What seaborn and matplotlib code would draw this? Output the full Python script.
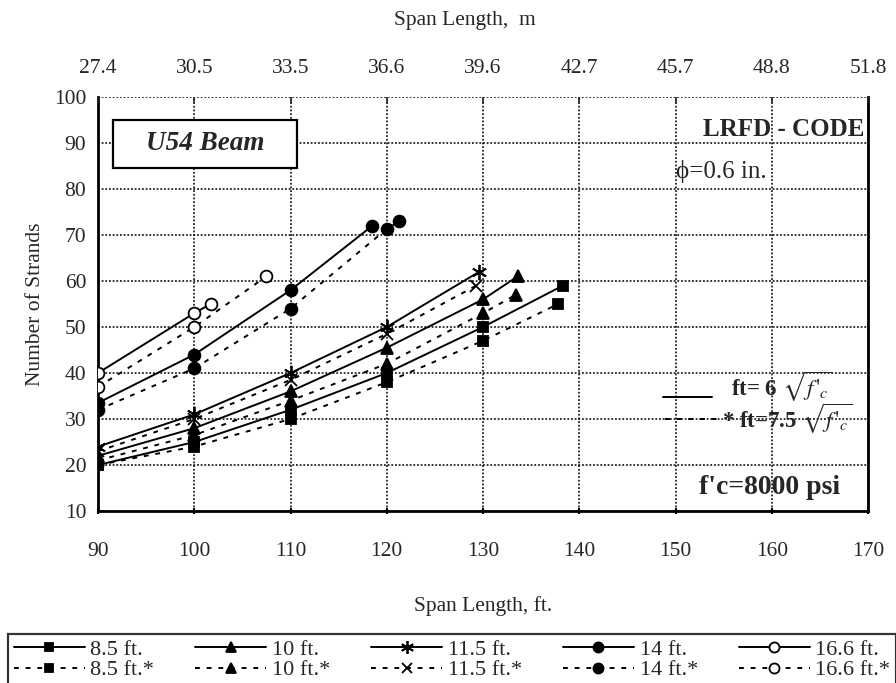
import matplotlib
matplotlib.use("Agg")
import matplotlib.pyplot as plt
import seaborn as sns
from matplotlib.patches import Rectangle
from matplotlib.lines import Line2D

# ---------------- data ----------------
x_85 = [90, 100, 110, 120, 130, 138.3]
y_85 = [20, 25, 32, 40, 50, 59]
x_85s = [90, 100, 110, 120, 130, 137.8]
y_85s = [20, 24, 30, 38, 47, 55]
x_10 = [90, 100, 110, 120, 130, 133.6]
y_10 = [22, 28, 36, 45.5, 56, 61]
x_10s = [90, 100, 110, 120, 130, 133.4]
y_10s = [21, 26.5, 34, 42, 53, 57]
x_115 = [90, 100, 110, 120, 129.6]
y_115 = [24, 31, 40, 50, 62]
x_115s = [90, 100, 110, 120, 129.3]
y_115s = [23, 30, 38.5, 48.5, 59]
x_14 = [90, 100, 110, 118.5]
y_14 = [33.5, 44, 58, 72]
x_14s = [90, 100, 110, 120, 121.3]
y_14s = [32, 41, 54, 71.3, 73]
x_166 = [90, 100, 101.7]
y_166 = [40, 53, 55]
x_166s = [90, 100, 107.5]
y_166s = [37, 50, 61]

x_ticks_ft = [90, 100, 110, 120, 130, 140, 150, 160, 170]
x_ticks_m = ["27.4", "30.5", "33.5", "36.6", "39.6", "42.7", "45.7", "48.8", "51.8"]
y_ticks = [10, 20, 30, 40, 50, 60, 70, 80, 90, 100]

labels = ["8.5 ft.", "8.5 ft.*", "10 ft.", "10 ft.*", "11.5 ft.", "11.5 ft.*",
          "14 ft.", "14 ft.*", "16.6 ft.", "16.6 ft.*"]

# ---------------- style ----------------
sns.set_style("white")
plt.rcParams["font.family"] = ["Liberation Serif", "DejaVu Serif"]
plt.rcParams["mathtext.fontset"] = "stix"

fig = plt.figure(figsize=(8.96, 6.83), dpi=100)
W, H = 896, 683
ax = fig.add_axes([98 / W, 172 / H, 770 / W, 414 / H])

solid = "-"
dash = (0, (2.5, 3.5))
series = [
    (x_85, y_85, "s", "black", solid, 7),
    (x_85s, y_85s, "s", "black", dash, 7),
    (x_10, y_10, "^", "black", solid, 8.5),
    (x_10s, y_10s, "^", "black", dash, 8.5),
    (x_115, y_115, (6, 2, 0), "black", solid, 11),
    (x_115s, y_115s, "x", "black", dash, 9),
    (x_14, y_14, "o", "black", solid, 8.5),
    (x_14s, y_14s, "o", "black", dash, 8.5),
    (x_166, y_166, "o", "white", solid, 8.5),
    (x_166s, y_166s, "o", "white", dash, 8.5),
]

for (xs, ys, mk, fc, ls, ms), lab in zip(series, labels):
    sns.lineplot(x=xs, y=ys, ax=ax, color="black", marker=mk, markersize=ms,
                 markerfacecolor=fc, markeredgecolor="black", markeredgewidth=1.3,
                 linestyle=ls, linewidth=1.4, label=lab, estimator=None,
                 sort=False, zorder=4)

handles, labs = ax.get_legend_handles_labels()
ax.get_legend().remove()

ax.set_xlim(90, 170)
ax.set_ylim(10, 100)
ax.set_xticks(x_ticks_ft)
ax.set_yticks(y_ticks)
ax.grid(True, color="black", linestyle=(0, (1.2, 1.2)), linewidth=1.1)
ax.set_axisbelow(True)
ax.tick_params(axis="both", labelsize=15.5, color="black", length=5, width=1.5,
               direction="inout")
ax.tick_params(axis="x", pad=20)
ax.tick_params(axis="y", pad=6)
for s in ["left", "bottom", "right"]:
    ax.spines[s].set_color("black")
    ax.spines[s].set_linewidth(2)
ax.spines["top"].set_visible(False)
ax.set_xlabel("")
ax.set_ylabel("")

# top axis in metres
ax2 = ax.twiny()
ax2.set_xlim(ax.get_xlim())
ax2.set_xticks(x_ticks_ft)
ax2.set_xticklabels(x_ticks_m)
ax2.tick_params(axis="x", labelsize=15.5, direction="in", length=4, width=1.2, pad=14)
for s in ax2.spines.values():
    s.set_visible(False)

fig.text(465 / W, 1 - 20 / H, "Span Length,  m", ha="center", va="center", fontsize=15.5)
fig.text(483 / W, 1 - 606 / H, "Span Length, ft.", ha="center", va="center", fontsize=15.5)
fig.text(35 / W, 1 - 304 / H, "Number of Strands", ha="center", va="center",
         rotation=90, fontsize=15.5)

# annotation box
ax.add_patch(Rectangle((91.6, 84.6), 19.1, 10.4, facecolor="white",
                       edgecolor="black", linewidth=1.6, zorder=5))
ax.text(101.15, 89.8, "U54 Beam", ha="center", va="center", fontsize=19.5,
        fontweight="bold", fontstyle="italic", zorder=6)
ax.text(169.6, 90.4, "LRFD - CODE", ha="right", va="bottom", fontsize=18,
        fontweight="bold", zorder=6)
ax.text(150.0, 83.7, "\u03d5=0.6 in.", ha="left", va="center", fontsize=18, zorder=6)

ax.add_line(Line2D([148.7, 153.8], [34.8, 34.8], color="black", linewidth=1.4, zorder=6))
ax.text(155.8, 37.0, r"ft= 6 $\sqrt{f\,'_c}$", ha="left", va="center", fontsize=16.5,
        fontweight="bold", zorder=6)
ax.add_line(Line2D([148.9, 154.8], [30, 30], color="black", linewidth=1.4,
                   linestyle=dash, zorder=6))
ax.text(154.8, 30.0, r"* ft=7.5 $\sqrt{f\,'_c}$", ha="left", va="center", fontsize=16.5,
        fontweight="bold", zorder=6)
ax.text(159.8, 15.0, "f'c=8000 psi", ha="center", va="center", fontsize=20,
        fontweight="bold", zorder=6)

leg = fig.legend(handles, labs, loc="lower left", ncol=5, mode="expand",
                 bbox_to_anchor=(8 / W, -3 / H, 1.0 - 8 / W, 56 / H),
                 borderaxespad=0.0,
                 fontsize=16, handlelength=3.2, handletextpad=0.25,
                 columnspacing=0.8, labelspacing=0.0, borderpad=0.25,
                 markerscale=0.85, frameon=True, fancybox=False)
leg.get_frame().set_edgecolor("black")
leg.get_frame().set_linewidth(1.6)

fig.savefig("out.png", dpi=100)
